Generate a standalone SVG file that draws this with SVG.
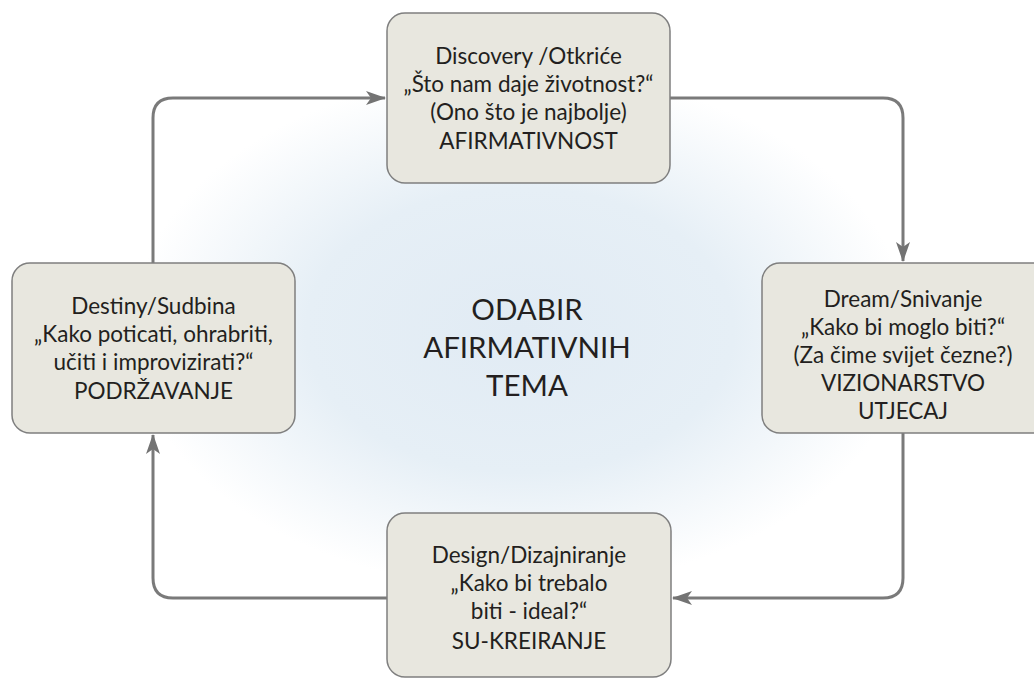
<svg xmlns="http://www.w3.org/2000/svg" width="1034" height="678" viewBox="0 0 1034 678">
<defs>
<radialGradient id="glow" cx="520" cy="330" r="370" gradientUnits="userSpaceOnUse" gradientTransform="translate(520 330) scale(1.05 0.7) translate(-520 -330)">
<stop offset="0" stop-color="#e1ebf4"/>
<stop offset="0.55" stop-color="#e6eff6"/>
<stop offset="1" stop-color="#ffffff"/>
</radialGradient>
<marker id="arr" viewBox="0 0 20 14" refX="19" refY="7" markerWidth="20" markerHeight="14" markerUnits="userSpaceOnUse" orient="auto">
<path d="M0,0 L20,7 L0,14 L5,7 Z" fill="#737373"/>
</marker>
<style>
.box{fill:#e8e7df;stroke:#7f7f7f;stroke-width:1.5}
.t{font-family:Lato,"Open Sans","Liberation Sans",sans-serif;font-size:22.5px;fill:#231f20;text-anchor:middle}
.c{font-family:Lato,"Open Sans","Liberation Sans",sans-serif;font-size:29.5px;fill:#231f20;text-anchor:middle}
.ln{fill:none;stroke:#7a7a7a;stroke-width:3}
</style>
</defs>
<rect width="1034" height="678" fill="#ffffff"/>
<rect x="0" y="0" width="1034" height="678" fill="url(#glow)"/>
<g id="connectors">
<path class="ln" d="M153,263 V118 Q153,98 173,98 H385" marker-end="url(#arr)"/>
<path class="ln" d="M670,98 H883 Q903,98 903,118 V261" marker-end="url(#arr)"/>
<path class="ln" d="M903,433 V578 Q903,598 883,598 H673" marker-end="url(#arr)"/>
<path class="ln" d="M387,598 H173 Q153,598 153,578 V435" marker-end="url(#arr)"/>
</g>
<g id="center">
<text class="c" x="527" y="320">ODABIR</text>
<text class="c" x="527" y="358">AFIRMATIVNIH</text>
<text class="c" x="527" y="396">TEMA</text>
</g>
<g id="discovery">
<rect class="box" x="387" y="13" width="283" height="170" rx="18"/>
<text class="t" x="528.5" y="64">Discovery /Otkriće</text>
<text class="t" x="528.5" y="92">„Što nam daje životnost?“</text>
<text class="t" x="528.5" y="120">(Ono što je najbolje)</text>
<text class="t" x="528.5" y="149">AFIRMATIVNOST</text>
</g>
<g id="dream">
<rect class="box" x="762" y="263" width="290" height="170" rx="18"/>
<text class="t" x="903" y="307">Dream/Snivanje</text>
<text class="t" x="903" y="335">„Kako bi moglo biti?“</text>
<text class="t" x="903" y="363">(Za čime svijet čezne?)</text>
<text class="t" x="903" y="391">VIZIONARSTVO</text>
<text class="t" x="903" y="419">UTJECAJ</text>
</g>
<g id="design">
<rect class="box" x="387" y="513" width="284" height="164" rx="18"/>
<text class="t" x="529" y="563">Design/Dizajniranje</text>
<text class="t" x="529" y="591">„Kako bi trebalo</text>
<text class="t" x="529" y="619">biti - ideal?“</text>
<text class="t" x="529" y="649">SU-KREIRANJE</text>
</g>
<g id="destiny">
<rect class="box" x="12" y="263" width="283" height="170" rx="18"/>
<text class="t" x="153.5" y="314">Destiny/Sudbina</text>
<text class="t" x="153.5" y="342">„Kako poticati, ohrabriti,</text>
<text class="t" x="153.5" y="370">učiti i improvizirati?“</text>
<text class="t" x="153.5" y="399">PODRŽAVANJE</text>
</g>
</svg>
